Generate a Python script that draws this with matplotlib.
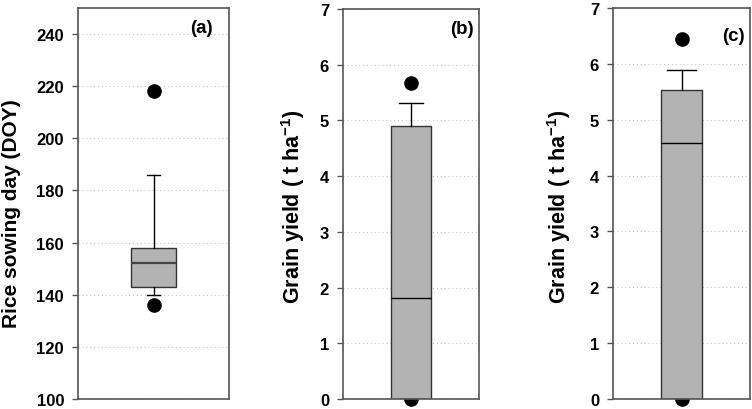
import matplotlib
matplotlib.use("Agg")
import matplotlib.pyplot as plt

plt.rcParams['font.family'] = ['Liberation Sans', 'DejaVu Sans']
plt.rcParams['font.weight'] = 'bold'
plt.rcParams['mathtext.fontset'] = 'custom'
plt.rcParams['mathtext.rm'] = 'Liberation Sans:bold'
plt.rcParams['mathtext.default'] = 'rm'

# box statistics
panel_tags = ["(a)", "(b)", "(c)"]
ylabels = ["Rice sowing day (DOY)", "Grain yield ( t ha$^{-1}$)", "Grain yield ( t ha$^{-1}$)"]
medians = [152, 1.82, 4.59]
q1s = [143, 0.0, 0.0]
q3s = [158, 4.90, 5.53]
whis_lo = [140, 0.0, 0.0]
whis_hi = [186, 5.32, 5.89]
outliers = [[218, 136], [5.67, 0.0], [6.44, 0.0]]
ylims = [(100, 250), (0, 7), (0, 7)]
yticks = [list(range(100, 241, 20)), list(range(0, 8)), list(range(0, 8))]

# layout (pixels) and cosmetics
W, H = 752, 410
boxes_px = [(78, 229, 9, 400), (343, 479, 10, 400), (613, 750, 9, 400)]
box_w = [0.60, 0.59, 0.59]
cap_w = [0.17, 0.35, 0.42]
med_style = [dict(color="#444444", linewidth=1.6), dict(color="black", linewidth=1.0), dict(color="black", linewidth=1.0)]
label_xy = [(-0.38, 0.477), (-0.262, 0.495), (-0.29, 0.495)]
label_size = [15, 15.5, 15.5]
tag_xy = [(0.82, 0.95), (0.875, 0.95), (0.88, 0.93)]

fig = plt.figure(figsize=(W / 100, H / 100), dpi=100)

for i in range(3):
    l, r, t, b = boxes_px[i]
    ax = fig.add_axes([l / W, (H - b) / H, (r - l) / W, (b - t) / H])
    stats = [dict(med=medians[i], q1=q1s[i], q3=q3s[i], whislo=whis_lo[i],
                  whishi=whis_hi[i], fliers=outliers[i])]
    art = ax.bxp(stats, positions=[1], widths=box_w[i], capwidths=cap_w[i],
                 patch_artist=True, showfliers=True,
                 boxprops=dict(facecolor="#b3b3b3", edgecolor="#333333", linewidth=1.0),
                 medianprops=med_style[i],
                 whiskerprops=dict(color="black", linewidth=1.0),
                 capprops=dict(color="black", linewidth=1.0),
                 flierprops=dict(marker="o", markerfacecolor="black", markeredgecolor="black",
                                 markersize=9.5))
    # fliers sit under the box, so the ones at 0 only peek out below the axis
    for f in art["fliers"]:
        f.set_clip_on(False)
        f.set_zorder(1.5)
    for bx in art["boxes"]:
        bx.set_zorder(2)
    ax.set_xlim(0, 2)
    ax.set_ylim(*ylims[i])
    ax.set_yticks(yticks[i])
    ax.set_xticks([])
    ax.yaxis.grid(True, linestyle=(0, (1, 2.5)), color="#c8c8c8", linewidth=0.8)
    ax.set_axisbelow(True)
    for s in ax.spines.values():
        s.set_color("#555555")
        s.set_linewidth(1.2)
    ax.tick_params(axis="y", direction="out", length=4, width=1, color="#555555",
                   labelsize=12, pad=6)
    for lab in ax.get_yticklabels():
        lab.set_fontweight("bold")
    ax.set_ylabel(ylabels[i], fontsize=label_size[i], fontweight="bold")
    ax.yaxis.set_label_coords(*label_xy[i])
    ax.text(tag_xy[i][0], tag_xy[i][1], panel_tags[i], transform=ax.transAxes,
            ha="center", va="center", fontsize=13.5, fontweight="bold")

fig.savefig("out.png", dpi=100)
